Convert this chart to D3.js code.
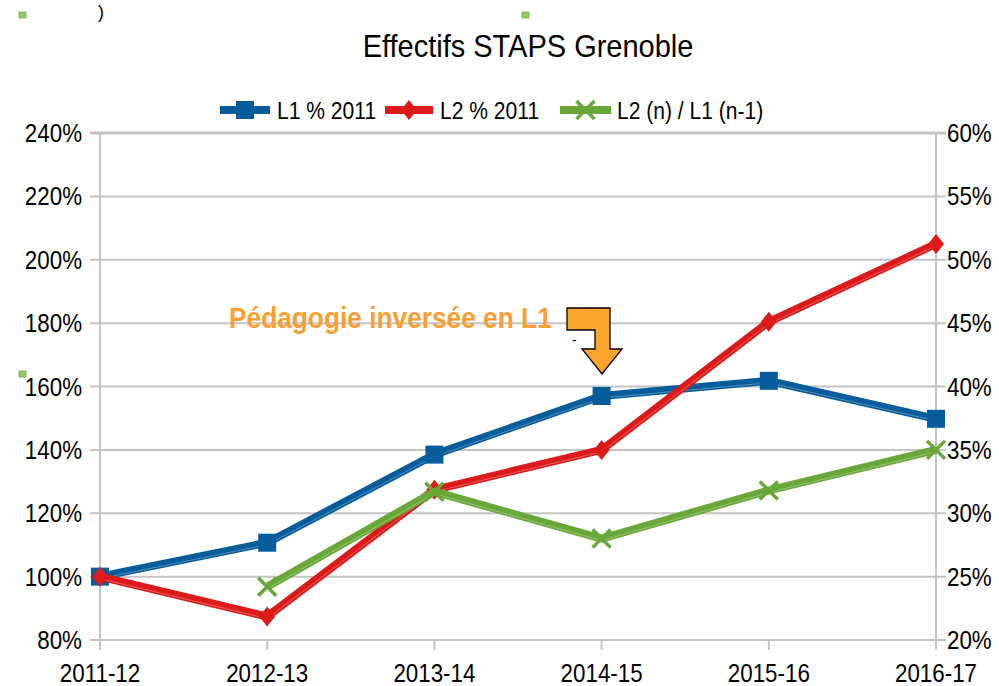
<!DOCTYPE html>
<html>
<head>
<meta charset="utf-8">
<script src="https://cdn.jsdelivr.net/npm/d3@7"></script>
<style>
  body { margin: 0; background: #fff; }
  text { font-family: "Liberation Sans", Arial, sans-serif; }
</style>
</head>
<body>
<div id="chart"></div>
<script>
// values
const years = ["2011-12", "2012-13", "2013-14", "2014-15", "2015-16", "2016-17"];
const l1Pct = [100, 110.7, 138.5, 157, 161.8, 149.8];
const l2Pct = [100, 87.4, 127.4, 140, 180.4, 205];
const l2OverL1 = [null, 24.2, 31.7, 28.0, 31.8, 35.0];
const leftTicks = [80, 100, 120, 140, 160, 180, 200, 220, 240];
const rightTicks = [20, 25, 30, 35, 40, 45, 50, 55, 60];
const seriesNames = ["L1 % 2011", "L2 % 2011", "L2 (n) / L1 (n-1)"];

const W = 999, H = 686;
const mLeft = 100, mRight = 936, mTop = 133, mBottom = 640;

const blue = "#075d9b", red = "#dd1a1a", green = "#69a838", grid = "#c4c4c4";
const squeeze = 0.86; // the screenshot's text is narrower than the font

let svg = d3.select("#chart").append("svg")
  .attr("width", W)
  .attr("height", H);

let x = d3.scalePoint().domain(years).range([mLeft, mRight]);
let yL = d3.scaleLinear().domain([80, 240]).range([mBottom, mTop]);
let yR = d3.scaleLinear().domain([20, 60]).range([mBottom, mTop]);

function label(g, txt, px, py, size, anchor, sx) {
  return g.append("text")
    .attr("text-anchor", anchor || "start")
    .attr("transform", `translate(${px},${py}) scale(${sx || squeeze},1)`)
    .style("font-size", size + "px")
    .text(txt);
}
// stretch a single text to the width measured on the picture
function fit(sel, px, py, width) {
  let sx = width / sel.node().getComputedTextLength();
  sel.attr("transform", `translate(${px},${py}) scale(${sx},1)`);
  return sel;
}

// selection handles / scraps from the screenshot
svg.append("text").attr("x", 98).attr("y", 18).style("font-size", "18px").text(")");
[[19, 12], [522, 12], [19, 371]].forEach(p => {
  svg.append("rect").attr("x", p[0]).attr("y", p[1]).attr("width", 7).attr("height", 6)
    .attr("fill", "#8fcb62").attr("stroke", "#6aa840").attr("stroke-width", 0.7);
});

// gridlines
let gridG = svg.append("g");
gridG.selectAll("line.h").data(leftTicks).enter().append("line")
  .attr("x1", mLeft - 10).attr("x2", mRight + 10)
  .attr("y1", d => yL(d)).attr("y2", d => yL(d))
  .attr("stroke", grid).attr("stroke-width", d => d === 240 ? 3 : 2);
gridG.selectAll("line.v").data([mLeft, mRight]).enter().append("line")
  .attr("x1", d => d).attr("x2", d => d)
  .attr("y1", mTop).attr("y2", mBottom + 10)
  .attr("stroke", grid).attr("stroke-width", 2);
gridG.selectAll("line.t").data(years).enter().append("line")
  .attr("x1", d => x(d)).attr("x2", d => x(d))
  .attr("y1", mBottom).attr("y2", mBottom + 10)
  .attr("stroke", grid).attr("stroke-width", 2);

// axis labels
let axG = svg.append("g").style("fill", "#000");
leftTicks.forEach(v => label(axG, v + "%", 82, yL(v) + 9, 26, "end"));
rightTicks.forEach(v => label(axG, v + "%", 947, yR(v) + 9, 26, "start"));
years.forEach(v => label(axG, v, x(v), 682, 26, "middle"));

// title
fit(label(svg, "Effectifs STAPS Grenoble", 0, 0, 32, "middle", 1), 528, 57, 331);

// series
function drawSeries(vals, yScale, color, marker) {
  let pts = years.map((yr, i) => ({ x: x(yr), y: vals[i] == null ? null : yScale(vals[i]) }));
  let line = d3.line().defined(d => d.y != null).x(d => d.x).y(d => d.y);
  let g = svg.append("g");
  g.append("path").attr("d", line(pts)).attr("fill", "none")
    .attr("stroke", color).attr("stroke-width", 8).attr("stroke-linejoin", "round");
  g.append("path").attr("d", line(pts)).attr("fill", "none")
    .attr("stroke", "#ffffff").attr("stroke-opacity", 0.3).attr("stroke-width", 1)
    .attr("transform", "translate(0,2)");
  marker(g, pts.filter(d => d.y != null), color);
}
function squares(g, pts, color) {
  g.selectAll("rect").data(pts).enter().append("rect")
    .attr("x", d => d.x - 9).attr("y", d => d.y - 9)
    .attr("width", 18).attr("height", 18).attr("fill", color);
}
function diamonds(g, pts, color) {
  g.selectAll("path.m").data(pts).enter().append("path")
    .attr("d", d => `M${d.x},${d.y - 10}L${d.x + 8},${d.y}L${d.x},${d.y + 10}L${d.x - 8},${d.y}Z`)
    .attr("fill", color);
}
function crosses(g, pts, color) {
  g.selectAll("path.m").data(pts).enter().append("path")
    .attr("d", d => `M${d.x - 9},${d.y - 9}L${d.x + 9},${d.y + 9}M${d.x + 9},${d.y - 9}L${d.x - 9},${d.y + 9}`)
    .attr("stroke", color).attr("stroke-width", 3.5).attr("fill", "none");
}

drawSeries(l1Pct, yL, blue, squares);
drawSeries(l2Pct, yL, red, diamonds);
drawSeries(l2OverL1, yR, green, crosses);

// legend
let legend = [
  { name: seriesNames[0], color: blue, marker: squares, x0: 220, x1: 270, tx: 277 },
  { name: seriesNames[1], color: red, marker: diamonds, x0: 385, x1: 433, tx: 440 },
  { name: seriesNames[2], color: green, marker: crosses, x0: 560, x1: 611, tx: 617 }
];
let lg = svg.append("g");
legend.forEach(d => {
  let g = lg.append("g");
  g.append("line").attr("x1", d.x0).attr("x2", d.x1).attr("y1", 110).attr("y2", 110)
    .attr("stroke", d.color).attr("stroke-width", 8);
  d.marker(g, [{ x: (d.x0 + d.x1) / 2, y: 110 }], d.color);
  label(g, d.name, d.tx, 119, 24.5, "start");
});

// annotation
let ann = svg.append("g");
fit(label(ann, "Pédagogie inversée en L1", 0, 0, 30, "start", 1)
  .style("font-weight", "bold").style("fill", "#f9a034"), 229, 328, 323);
ann.append("path")
  .attr("d", "M567,308L610,308L610,349L622,349L602,374L582,349L595,349L595,330L567,330Z")
  .attr("fill", "#f9a62a").attr("stroke", "#000").attr("stroke-width", 1.3);
ann.append("text").attr("x", 572).attr("y", 345).style("font-size", "14px").text("-");
</script>
</body>
</html>
